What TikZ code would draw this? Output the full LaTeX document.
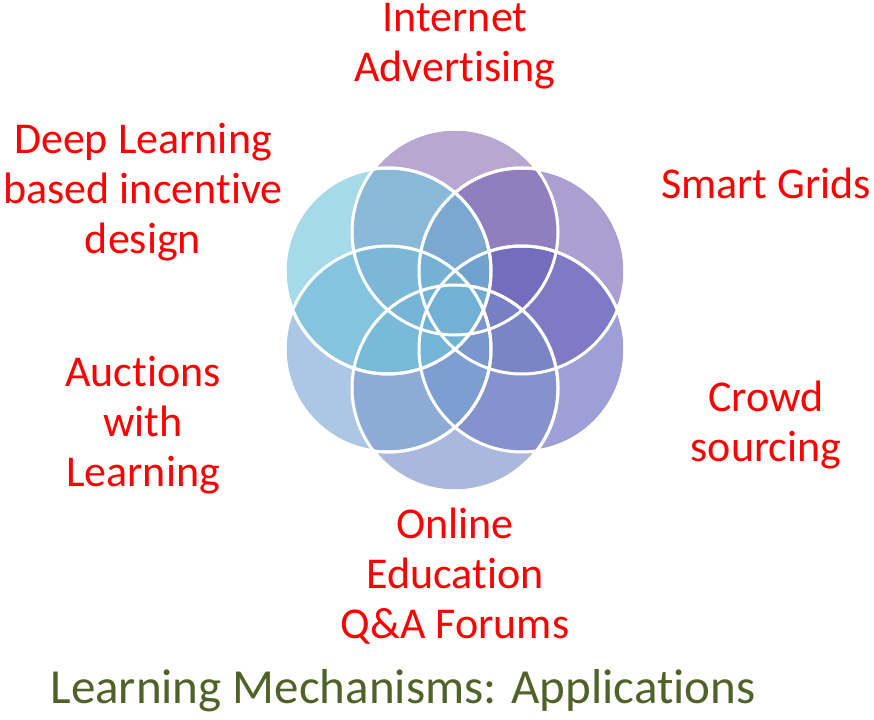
\documentclass[tikz,border=0pt]{standalone}
\usepackage{fontspec}
\setmainfont[RawFeature=-liga]{Carlito}
\begin{document}
\begin{tikzpicture}[x=1pt,y=-1pt,
  petal/.style={draw=white,line width=3pt,fill opacity=0.62},
  lab/.style={text=red,font=\fontsize{44}{50}\selectfont,align=center}]
\useasboundingbox (0,0) rectangle (874,719);
\fill[petal,fill={rgb,255:red,140;green,115;blue,180}] (455,232) circle (103) node (c1) {};
\fill[petal,fill={rgb,255:red,120;green,100;blue,180}] (522,271) circle (103) node (c2) {};
\fill[petal,fill={rgb,255:red,100;green,100;blue,190}] (522,349) circle (103) node (c3) {};
\fill[petal,fill={rgb,255:red,120;green,140;blue,200}] (455,388) circle (103) node (c4) {};
\fill[petal,fill={rgb,255:red,120;green,165;blue,210}] (388,349) circle (103) node (c5) {};
\fill[petal,fill={rgb,255:red,110;green,195;blue,220}] (388,271) circle (103) node (c6) {};
\draw[white,line width=3pt] (455,232) circle (103) (522,271) circle (103) (522,349) circle (103) (455,388) circle (103) (388,349) circle (103) (388,271) circle (103);
\node[lab] (t1) at (455,46) {Internet\\Advertising};
\node[lab] (t2) at (766,183) {Smart Grids};
\node[lab] (t3) at (766,425) {Crowd\\sourcing};
\node[lab] (t4) at (455,576) {Online\\Education\\Q\&A Forums};
\node[lab] (t5) at (143,425) {Auctions\\with\\Learning};
\node[lab] (t6) at (143,192) {Deep Learning\\based incentive\\design};
\node[text={rgb,255:red,79;green,98;blue,40},font=\fontsize{49}{50}\selectfont] (title) at (403,691) {Learning Mechanisms: Applications};
\end{tikzpicture}
\end{document}
